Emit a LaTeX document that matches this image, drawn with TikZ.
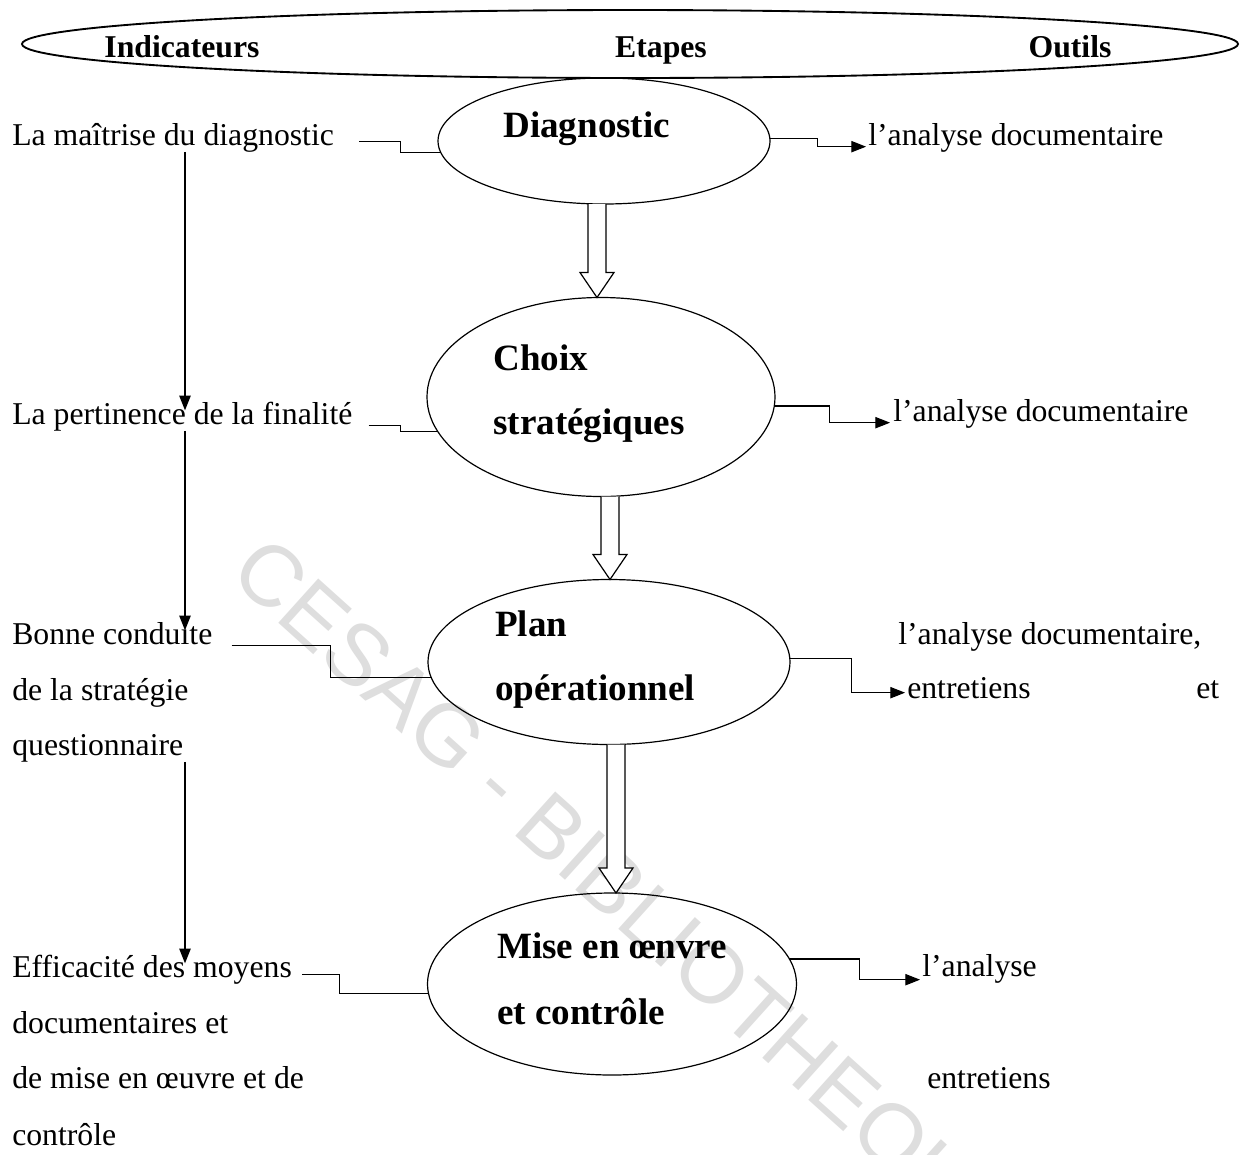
\documentclass[tikz,border=0pt]{standalone}
\usepackage{fontspec}
\setmainfont{Liberation Serif}
\newfontfamily\wmfont{Liberation Sans}
\usetikzlibrary{shapes.geometric,arrows.meta,calc}
\tikzset{
  oval/.style={draw, ellipse, inner sep=0pt, outer sep=0pt, line width=0.9pt},
  txt/.style={anchor=base west, inner sep=0pt, font=\fontsize{23.8}{28}\selectfont, text height=0.7em, text depth=0.2em},
  steptxt/.style={anchor=base west, inner sep=0pt, font=\fontsize{27.8}{32}\selectfont\bfseries},
  headtxt/.style={anchor=base, inner sep=0pt, font=\fontsize{23.8}{28}\selectfont\bfseries},
  conn/.style={line width=0.9pt},
  arr/.style={line width=0.9pt, -{Triangle[length=11pt,width=8.5pt]}},
  hollow/.style={line width=0.9pt, draw, fill=white, line join=miter},
}
\newcommand{\hollowarrow}[3]{%
  \draw[hollow] ($(#2.south -| #1,0)+(-9,0)$) -- ($(#3.north -| #1,0)+(-9,-25)$) -- ++(-8,0)
    -- (#3.north -| #1,0) -- ++(17,-25) -- ++(-8,0) -- ($(#2.south -| #1,0)+(9,0)$);}
\begin{document}
\begin{tikzpicture}[x=0.75pt,y=-0.75pt]
\useasboundingbox (0,0) rectangle (1243,1154);
\fill[white] (0,0) rectangle (1243,1154);
% watermark
\begin{scope}
\clip (0,0) rectangle (1243,1154);
\node[anchor=west, rotate=-42, text=black!13, inner sep=0pt, font=\wmfont\fontsize{65}{70}\selectfont] (wm) at (242,560) {CESAG - BIBLIOTHEQUE};
\end{scope}
% header
\node[oval, line width=1.4pt, minimum width={1216*0.75pt}, minimum height={68*0.75pt}] (head) at (630,44) {};
\node[headtxt] (hi) at (182,57) {Indicateurs};
\node[headtxt] (he) at (661,57) {Etapes};
\node[headtxt] (ho) at (1070,57) {Outils};
% step ellipses
\node[oval, minimum width={332*0.75pt}, minimum height={126*0.75pt}] (diag) at (604,141) {};
\node[oval, minimum width={348*0.75pt}, minimum height={199*0.75pt}] (choix) at (601,397) {};
\node[oval, minimum width={362*0.75pt}, minimum height={165*0.75pt}] (plan) at (609,662) {};
\node[oval, minimum width={369*0.75pt}, minimum height={182*0.75pt}] (mise) at (612,984) {};
\node[steptxt] (sd) at (503,137) {Diagnostic};
\node[steptxt] (sc1) at (493,370) {Choix};
\node[steptxt] (sc2) at (493,434) {stratégiques};
\node[steptxt] (sp1) at (495,636) {Plan};
\node[steptxt] (sp2) at (495,700) {opérationnel};
\node[steptxt] (sm1) at (497,958) {Mise en œnvre};
\node[steptxt] (sm2) at (497,1024) {et contrôle};
% hollow arrows
\hollowarrow{597}{diag}{choix}
\hollowarrow{610}{choix}{plan}
\hollowarrow{616}{plan}{mise}
% indicators
\node[txt] (t1) at (12,145) {La maîtrise du diagnostic};
\node[txt] (t2) at (12,424) {La pertinence de la finalité};
\node[txt] (t3a) at (12,644) {Bonne conduite};
\node[txt] (t3b) at (12,700) {de la stratégie};
\node[txt] (t3c) at (12,755) {questionnaire};
\node[txt] (t4a) at (12,977) {Efficacité des moyens};
\node[txt] (t4b) at (12,1033) {documentaires et};
\node[txt] (t4c) at (12,1088) {de mise en œuvre et de};
\node[txt] (t4d) at (12,1145) {contrôle};
% tools
\node[txt] (o1) at (868,145) {l’analyse documentaire};
\node[txt] (o2) at (893,421) {l’analyse documentaire};
\node[txt] (o3a) at (898,644) {l’analyse documentaire,};
\node[txt] (o3b) at (907,698) {entretiens};
\node[txt] (o3c) at (1196,698) {et};
\node[txt] (o4a) at (922,976) {l’analyse};
\node[txt] (o4b) at (927,1088) {entretiens};
% vertical arrows on the left
\draw[arr] ([yshift=-3pt]t1.south -| 185,0) -- ([yshift=3pt]t2.north -| 185,0);
\draw[arr] ([yshift=-3pt]t2.south -| 185,0) -- ([yshift=3pt]t3a.north -| 185,0);
\draw[arr] ([yshift=-3pt]t3c.south -| 185,0) -- ([yshift=3pt]t4a.north -| 185,0);
% left connectors
\draw[conn] ([shift={(25,0)}]t1.east) -- ++(41,0) |- (diag.184);
\draw[conn] ([shift={(16,5)}]t2.east) -- ++(32,0) |- (choix.192);
\draw[conn] ([shift={(19,5)}]t3a.east) -- ++(99,0) |- (plan.185);
\draw[conn] ([shift={(10,1)}]t4a.east) -- ++(37,0) |- (mise.183);
% right connectors
\draw[arr] (diag.1) -- ++(48,0) |- ([shift={(-2,5)}]o1.west);
\draw[arr] (choix.-3) -- ++(55,0) |- ([shift={(-3,5)}]o2.west);
\draw[arr] (plan.1) -- ++(62,0) |- ([shift={(-2,-2)}]o3b.west);
\draw[arr] (mise.8) -- ++(70,0) |- ([shift={(-2,7)}]o4a.west);
\end{tikzpicture}
\end{document}
